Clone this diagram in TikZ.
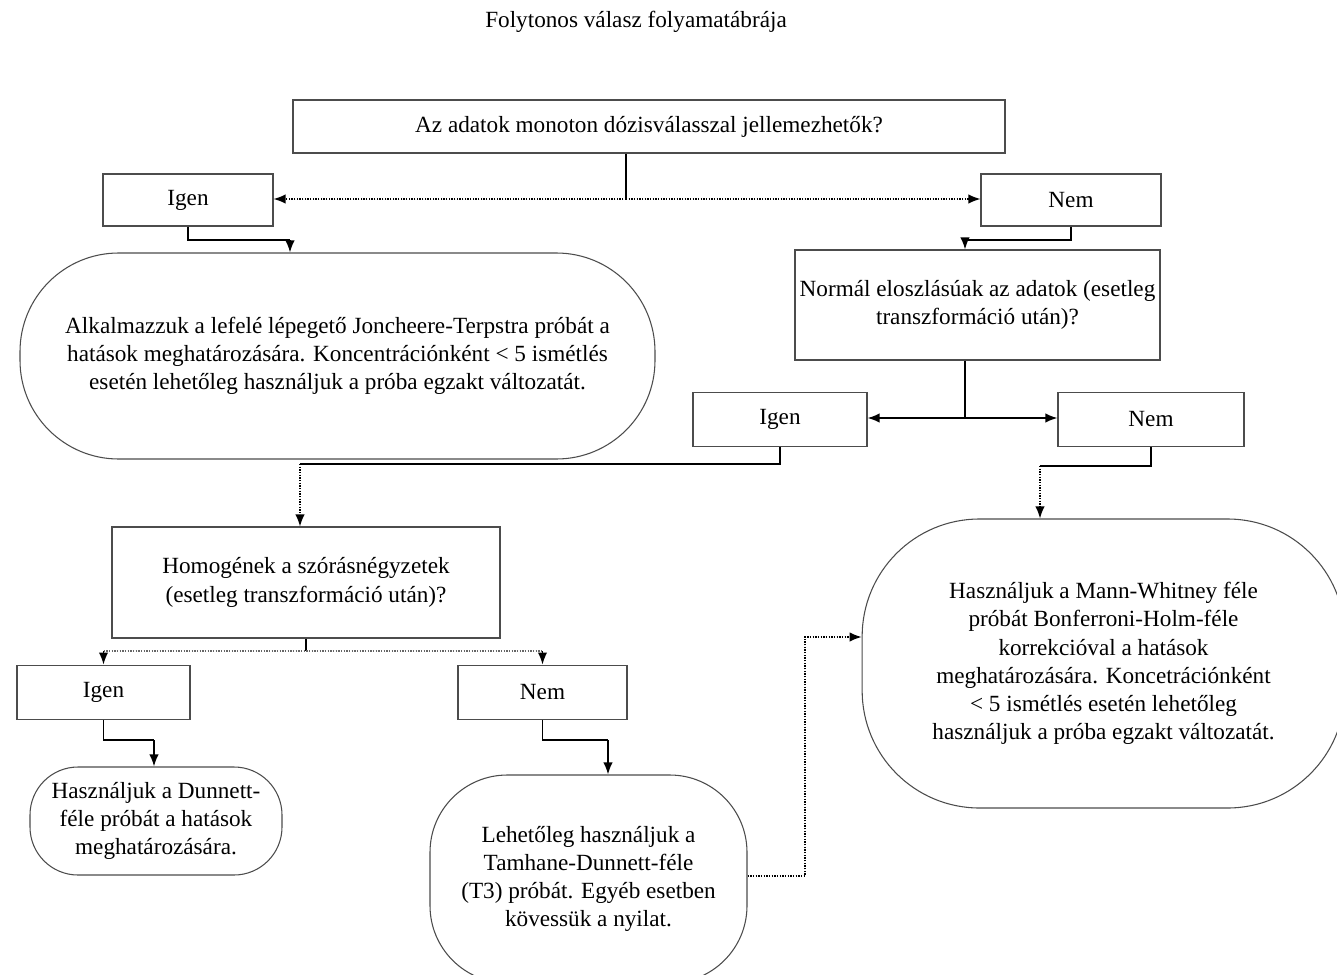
\documentclass[tikz,border=0pt]{standalone}
\usepackage{fontspec}
\setmainfont{Liberation Serif}
\usetikzlibrary{arrows.meta}
\begin{document}
\begin{tikzpicture}[x=0.75pt, y=-0.75pt,
  box/.style={draw=black!70, line width=0.8pt, align=center, inner sep=2pt, font=\fontsize{17.4}{21.2}\selectfont},
  answer/.style={box, minimum height=41pt},
  conn/.style={line width=1.2pt},
  dots/.style={line width=1pt, densely dotted},
  tip/.style={-{Latex[length=9pt,width=7pt]}}]
\useasboundingbox (0,0) rectangle (1337,974);

\node[font=\fontsize{17.4}{21}\selectfont] (title) at (636,22) {Folytonos válasz folyamatábrája};

% questions and answers
\node[box, minimum width=534pt, minimum height=39.75pt] (top) at (649,126.5) {Az adatok monoton dózisválasszal jellemezhetők?};
\node[answer, minimum width=127.5pt, minimum height=39pt] (igen1) at (188,200) {Igen};
\node[answer, minimum width=135pt, minimum height=39pt] (nem1) at (1071,200) {Nem};
\node[box, rounded corners=74pt, minimum width=476.25pt, minimum height=154.5pt] (alk) at (337.5,356)
    {Alkalmazzuk a lefelé lépegető Joncheere-Terpstra próbát a\\
     hatások meghatározására. Koncentrációnként < 5 ismétlés\\
     esetén lehetőleg használjuk a próba egzakt változatát.};
\node[box, minimum width=273.75pt, minimum height=82.5pt] (normal) at (977.5,305)
    {Normál eloszlásúak az adatok (esetleg\\ transzformáció után)?};
\node[answer, minimum width=130.5pt] (igen2) at (780,419.5) {Igen};
\node[answer, minimum width=139.5pt] (nem2) at (1151,419.5) {Nem};
\node[box, minimum width=291pt, minimum height=83.25pt] (homog) at (306,582.5)
    {Homogének a szórásnégyzetek\\ (esetleg transzformáció után)?};
\node[answer, minimum width=129.75pt] (igen3) at (103.5,692.5) {Igen};
\node[answer, minimum width=126.75pt] (nem3) at (542.5,692.5) {Nem};
\node[box, rounded corners=36pt, minimum width=189pt, minimum height=81pt] (dunnett) at (156,821)
    {Használjuk a Dunnett-\\ féle próbát a hatások\\ meghatározására.};
\node[box, rounded corners=58pt, minimum width=237.75pt, minimum height=156pt] (tamhane) at (588.5,879)
    {Lehetőleg használjuk a\\ Tamhane-Dunnett-féle\\ (T3) próbát. Egyéb esetben\\ kövessük a nyilat.};
\node[box, rounded corners=88pt, minimum width=362pt, minimum height=216.75pt] (mann) at (1103.5,663.5)
    {Használjuk a Mann-Whitney féle\\ próbát Bonferroni-Holm-féle\\ korrekcióval a hatások\\
     meghatározására. Koncetrációnként\\ < 5 ismétlés esetén lehetőleg\\
     használjuk a próba egzakt változatát.};

% connectors
\coordinate (s1) at (626,199);
\draw[conn] (s1 |- top.south) -- (s1);
\draw[dots, tip] (s1) -- (s1 -| igen1.east);
\draw[dots, tip] (s1) -- (s1 -| nem1.west);

\coordinate (b1) at (290,240);
\draw[conn] (igen1.south) |- (b1);
\draw[conn, tip] (b1) -- (b1 |- alk.north);

\coordinate (b2) at (965,240);
\draw[conn] (nem1.south) |- (b2);
\draw[conn, tip] (b2) -- (b2 |- normal.north);

\coordinate (s2) at (965,418);
\draw[conn] (s2 |- normal.south) -- (s2);
\draw[conn, tip] (s2) -- (s2 -| igen2.east);
\draw[conn, tip] (s2) -- (s2 -| nem2.west);

\coordinate (b3) at (300,464);
\draw[conn] (igen2.south) |- (b3);
\draw[dots, tip] (b3) -- (b3 |- homog.north);

\coordinate (b4) at (1040,466);
\draw[conn] (nem2.south) |- (b4);
\draw[dots, tip] (b4) -- (b4 |- mann.north);

\coordinate (s3) at (306,651);
\draw[conn] (homog.south) -- (s3);
\draw[dots, black!60] (s3 -| igen3.north) -- (s3 -| nem3.north);
\draw[conn, tip] (s3 -| igen3.north) -- (igen3.north);
\draw[conn, tip] (s3 -| nem3.north) -- (nem3.north);

\coordinate (b5) at (154,740);
\draw[conn] (igen3.south) |- (b5);
\draw[conn, tip] (b5) -- (b5 |- dunnett.north);

\coordinate (b6) at (608,740);
\draw[conn] (nem3.south) |- (b6);
\draw[conn, tip] (b6) -- (b6 |- tamhane.north);

\coordinate (b7) at (805,876);
\coordinate (b8) at (805,637);
\draw[dots, tip] (tamhane.east |- b7) -- (b7) -- (b8) -- (b8 -| mann.west);
\end{tikzpicture}
\end{document}
